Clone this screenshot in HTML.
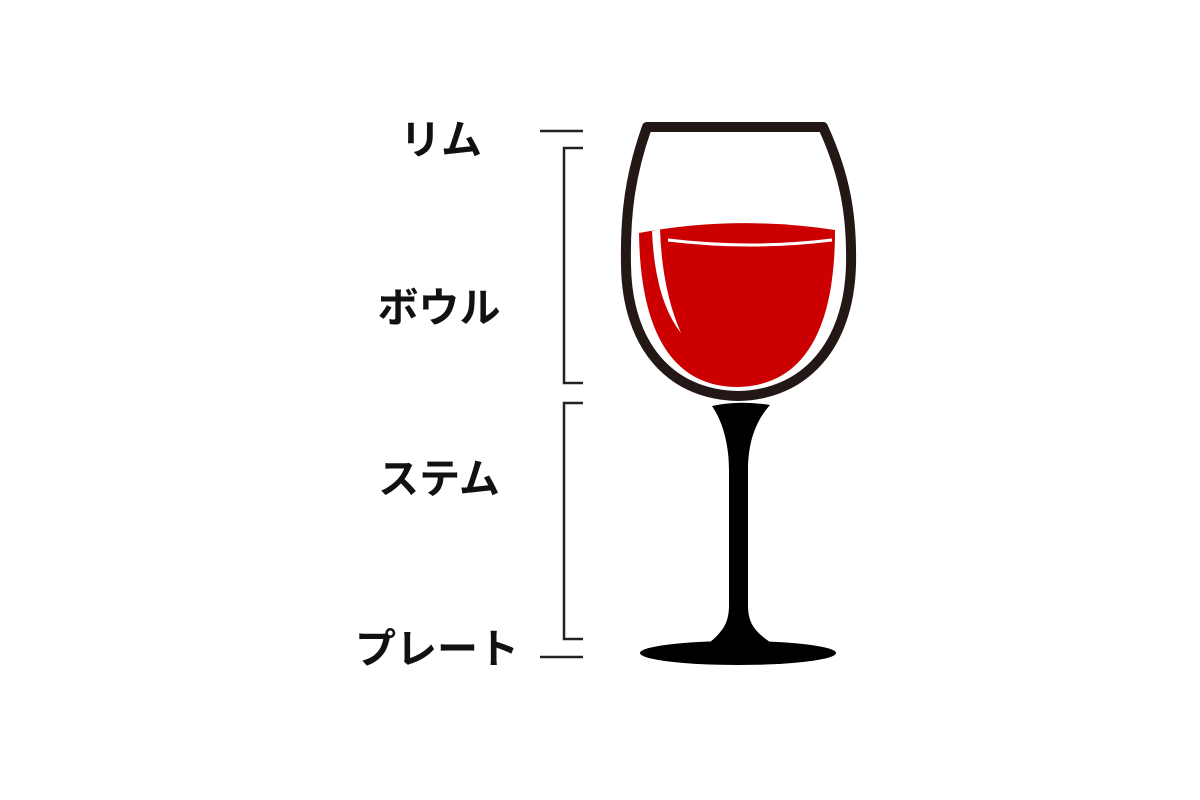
<!DOCTYPE html>
<html><head><meta charset="utf-8"><style>
html,body{margin:0;padding:0;background:#fff;}
svg{display:block}
text{font-family:"Liberation Sans","Noto Sans CJK JP",sans-serif;font-weight:bold;font-size:41px;fill:#111;}
</style></head><body>
<svg width="1200" height="800" viewBox="0 0 1200 800">
<g>
<text x="441" y="154" text-anchor="middle">リム</text>
<text x="439" y="322" text-anchor="middle">ボウル</text>
<text x="439" y="493" text-anchor="middle">ステム</text>
<text x="437" y="663" text-anchor="middle">プレート</text>
</g>
<g stroke="#222" stroke-width="2.5" fill="none">
<line x1="540" y1="131" x2="583" y2="131"/>
<polyline points="583,148 564,148 564,383 583,383"/>
<polyline points="583,403 564,403 564,639 583,639"/>
<line x1="540" y1="657" x2="583" y2="657"/>
</g>
<path fill="#cc0000"
 d="M639,233 Q735,215 835,230 C835,300 820,385 738,387 C660,387 640,310 639,233 Z"/>
<path fill="none" stroke="#fff" stroke-width="3" d="M668,240 Q750,250 832,240"/>
<path fill="#fff" d="M652,231 L660,229 Q662,290 681,333 Q655,300 652,231 Z"/>
<path fill="none" stroke="#231815" stroke-width="10" stroke-linejoin="round"
 d="M647,127 L823,127 C845,175 852,215 851,265 C849,345 805,395 738,396 C670,395 627,345 626,265 C625,215 630,175 647,127 Z"/>
<path fill="#000"
 d="M712,406 Q738,400 770,405 C752,425 748,450 748,470 L748,605 C748,620 752,630 770,642 L710,642 C725,630 729,620 729,605 L729,470 C729,450 725,425 712,406 Z"/>
<ellipse cx="738" cy="653" rx="98" ry="12" fill="#000"/>
</svg>
</body></html>
